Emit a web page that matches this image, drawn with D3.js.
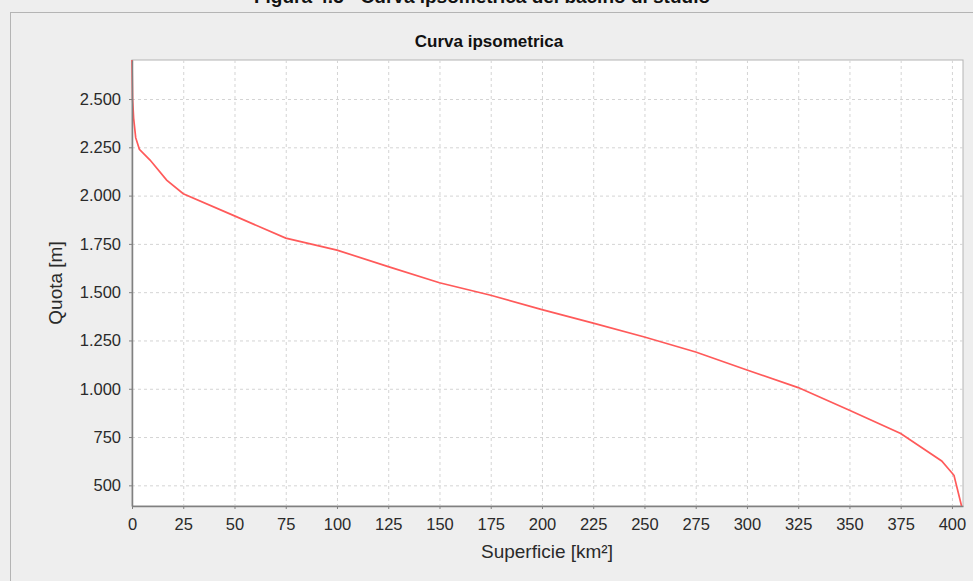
<!DOCTYPE html>
<html>
<head>
<meta charset="utf-8">
<script src="https://cdn.jsdelivr.net/npm/d3@7"></script>
<style>
  body { margin: 0; background: #eeeeee; }
  svg { display: block; font-family: "Liberation Sans", Arial, sans-serif; }
  .tick text { font-size: 16.5px; fill: #2a2a2a; }
  .grid line { stroke: #d4d4d4; stroke-dasharray: 3,3; }
  .grid .domain { display: none; }
</style>
</head>
<body>
<svg id="chart" width="973" height="581"></svg>
<script>
// superficie cumulata [km²] e quota [m]
const superficie = [0, 0.3, 0.8, 1.8, 3.6, 8.8, 16.9, 25, 50, 75, 100, 125, 150, 175, 200, 225, 250, 275, 300, 325, 350, 375, 395, 401, 404.7];
const quota = [2702, 2500, 2400, 2300, 2240, 2184, 2080, 2010, 1895, 1780, 1718, 1632, 1549, 1484, 1410, 1340, 1268, 1190, 1097, 1006, 889, 768, 626, 552, 393];

const xTicks = d3.range(0, 401, 25);
const yTicks = [500, 750, 1000, 1250, 1500, 1750, 2000, 2250, 2500];

const figTitle = 'Figura 4.3 - Curva ipsometrica del bacino di studio';
const chartTitle = 'Curva ipsometrica';
const xLabel = 'Superficie [km²]';
const yLabel = 'Quota [m]';

const it = d3.formatLocale({ decimal: ',', thousands: '.', grouping: [3], currency: ['', '€'] });
const fmt = it.format(',d');

const svg = d3.select('#chart');
const margin = { top: 60, left: 132, right: 10, bottom: 75 };
const width = 973 - margin.left - margin.right;
const height = 581 - margin.top - margin.bottom;

// figure caption, cut off by the top of the page
svg.append('text')
  .attr('x', 482).attr('y', 3)
  .attr('text-anchor', 'middle')
  .style('font-weight', 'bold').style('font-size', '19px')
  .attr('fill', '#111')
  .text(figTitle);

// panel
svg.append('rect')
  .attr('x', 10.5).attr('y', 12.5)
  .attr('width', 1000).attr('height', 600)
  .attr('fill', '#eeeeee').attr('stroke', '#b4b4b4');

svg.append('text')
  .attr('x', 489).attr('y', 47)
  .attr('text-anchor', 'middle')
  .style('font-weight', 'bold').style('font-size', '17px')
  .attr('fill', '#111')
  .text(chartTitle);

const xScale = d3.scaleLinear().domain([0, 405.4]).range([0, width]);
const yScale = d3.scaleLinear().domain([393, 2702]).range([height, 0]);

const g = svg.append('g').attr('transform', `translate(${margin.left},${margin.top})`);

g.append('rect')
  .attr('width', width).attr('height', height)
  .attr('fill', '#ffffff').attr('stroke', '#b4b4b4');

g.append('g').attr('class', 'grid')
  .call(d3.axisBottom(xScale).tickValues(xTicks).tickSize(height).tickFormat(''));

g.append('g').attr('class', 'grid')
  .call(d3.axisLeft(yScale).tickValues(yTicks).tickSize(-width).tickFormat(''));

const line = d3.line()
  .x((d, i) => xScale(superficie[i]))
  .y((d) => yScale(d));

g.append('path')
  .datum(quota)
  .attr('d', line)
  .attr('fill', 'none')
  .attr('stroke', '#ff5a5a')
  .attr('stroke-width', 1.7);

const xAxis = g.append('g')
  .attr('transform', `translate(0,${height})`)
  .call(d3.axisBottom(xScale).tickValues(xTicks).tickSize(3).tickPadding(9).tickSizeOuter(0));

const yAxis = g.append('g')
  .call(d3.axisLeft(yScale).tickValues(yTicks).tickSize(3).tickPadding(8).tickSizeOuter(0).tickFormat(fmt));

[xAxis, yAxis].forEach((a) => {
  a.select('.domain').attr('stroke', '#808080').attr('stroke-width', 1.5);
  a.selectAll('.tick line').attr('stroke', '#808080');
});

svg.append('text')
  .attr('x', 547).attr('y', 558)
  .attr('text-anchor', 'middle')
  .style('font-size', '19px').attr('fill', '#2a2a2a')
  .text(xLabel);

svg.append('text')
  .attr('transform', `translate(62,${margin.top + height / 2}) rotate(-90)`)
  .attr('text-anchor', 'middle')
  .style('font-size', '19px').attr('fill', '#2a2a2a')
  .text(yLabel);
</script>
</body>
</html>
